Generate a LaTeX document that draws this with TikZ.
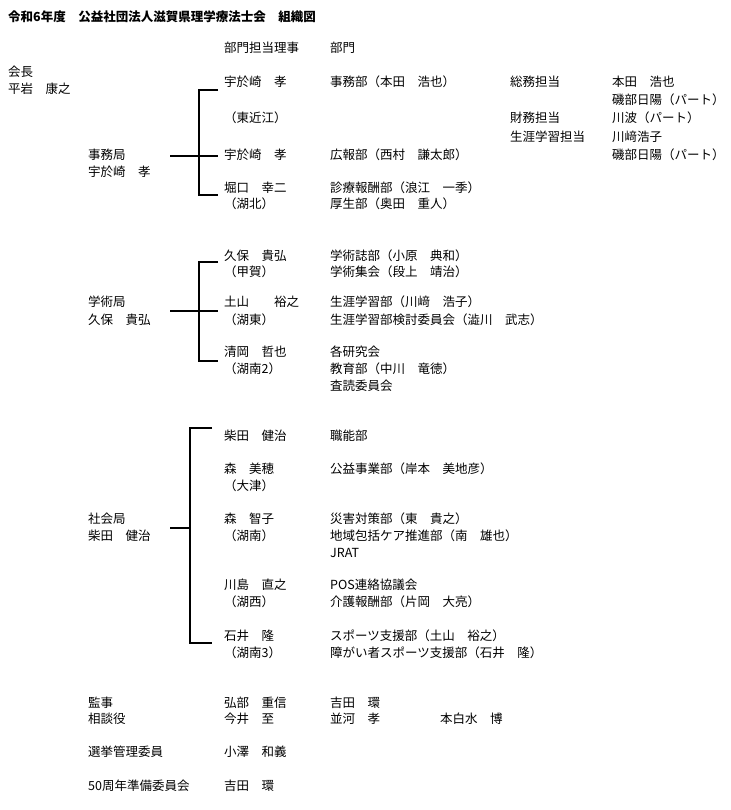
\documentclass[tikz,border=0pt]{standalone}
\usepackage{fontspec}
\setmainfont{Noto Sans CJK JP}
\begin{document}
\begin{tikzpicture}[x=1pt,y=-1pt,
  txt/.style={anchor=west,inner sep=0pt,font=\fontsize{12.5}{14}\selectfont},
  br/.style={line width=1.1pt,black}]
\useasboundingbox[fill=white] (0,0) rectangle (730,810);
\node[txt,font=\fontsize{12.5}{14}\selectfont\bfseries] (title) at (8,17) {令和6年度　公益社団法人滋賀県理学療法士会　組織図};
\foreach \x/\y/\t [count=\i] in {
 224/48/部門担当理事, 330/48/部門,
 8/72/会長, 8/89/平岩　康之,
 224/82/宇於崎　孝, 330/82/事務部（本田　浩也）, 510/82/総務担当, 612/82/本田　浩也,
 612/100/磯部日陽（パート）,
 224/118/（東近江）, 510/118/財務担当, 612/118/川波（パート）,
 510/137/生涯学習担当, 612/137/川﨑浩子,
 88/155/事務局, 224/155/宇於崎　孝, 330/155/広報部（西村　謙太郎）, 612/155/磯部日陽（パート）,
 88/172/宇於崎　孝,
 224/188/堀口　幸二, 330/188/診療報酬部（浪江　一季）,
 224/204/（湖北）, 330/204/厚生部（奥田　重人）,
 224/256/久保　貴弘, 330/256/学術誌部（小原　典和）,
 224/272/（甲賀）, 330/272/学術集会（段上　靖治）,
 88/302/学術局, 224/302/土山　　裕之, 330/302/生涯学習部（川﨑　浩子）,
 88/320/久保　貴弘, 224/320/（湖東）, 330/320/生涯学習部検討委員会（澁川　武志）,
 224/352/清岡　哲也, 330/352/各研究会,
 224/369/（湖南2）, 330/369/教育部（中川　竜徳）,
 330/386/査読委員会,
 224/436/柴田　健治, 330/436/職能部,
 224/469/森　美穂, 330/469/公益事業部（岸本　美地彦）,
 224/486/（大津）,
 88/519/社会局, 224/519/森　智子, 330/519/災害対策部（東　貴之）,
 88/536/柴田　健治, 224/536/（湖南）, 330/536/地域包括ケア推進部（南　雄也）,
 330/553/JRAT,
 224/585/川島　直之, 330/585/POS連絡協議会,
 224/602/（湖西）, 330/602/介護報酬部（片岡　大亮）,
 224/636/石井　隆, 330/636/スポーツ支援部（土山　裕之）,
 224/653/（湖南3）, 330/653/障がい者スポーツ支援部（石井　隆）,
 88/703/監事, 224/703/弘部　重信, 330/703/吉田　環,
 88/719/相談役, 224/719/今井　至, 330/719/並河　孝, 440/719/本白水　博,
 88/752/選挙管理委員, 224/752/小澤　和義,
 88/786/50周年準備委員会, 224/786/吉田　環}
 \node[txt] (n\i) at (\x,\y) {\t};
% brackets
\draw[br] (170,156) -- (218,156);
\draw[br] (218,90) -- (199,90) -- (199,195) -- (218,195);
\draw[br] (170,311) -- (218,311);
\draw[br] (218,262) -- (199,262) -- (199,361) -- (218,361);
\draw[br] (170,528) -- (190,528);
\draw[br] (212,428) -- (190,428) -- (190,643) -- (212,643);
\end{tikzpicture}
\end{document}
